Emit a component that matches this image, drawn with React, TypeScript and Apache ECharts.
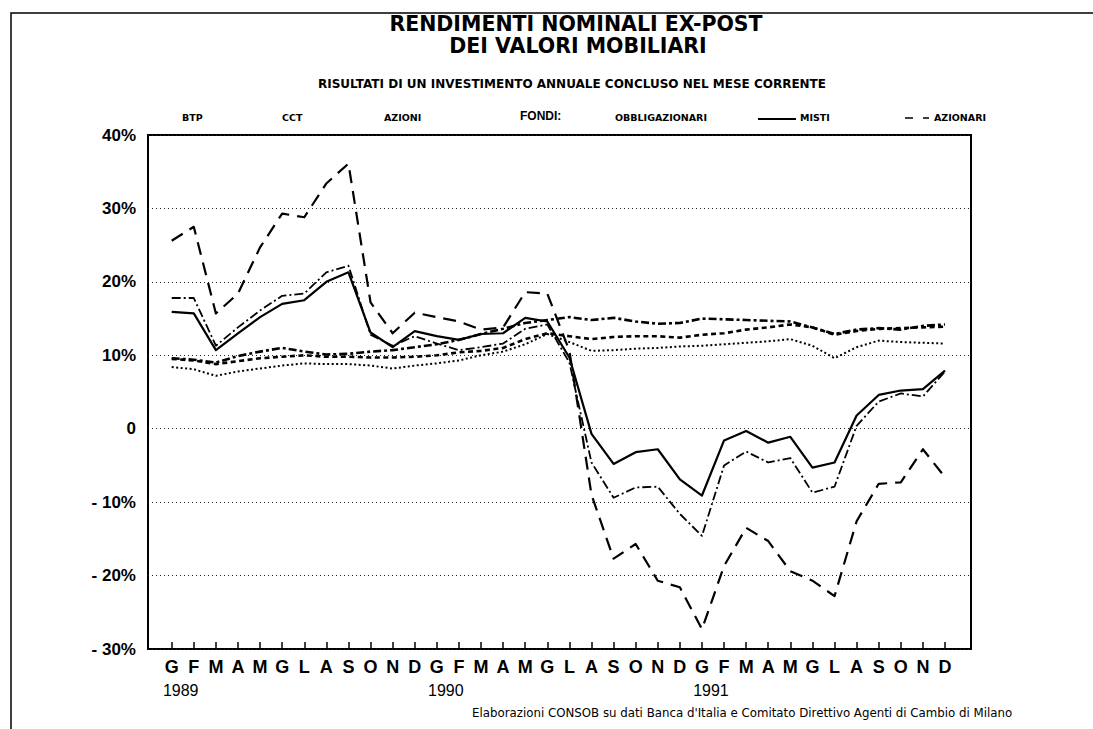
import React, { useEffect, useRef } from 'react';
import * as echarts from 'echarts';

const years = ['1989', '1990', '1991'];
const months = ['G', 'F', 'M', 'A', 'M', 'G', 'L', 'A', 'S', 'O', 'N', 'D'];
const yTickValues = [-30, -20, -10, 0, 10, 20, 30, 40];
const yTickLabels = ['- 30%', '- 20%', '- 10%', '0', '10%', '20%', '30%', '40%'];

const btp = [9.6, 9.4, 9.0, 9.9, 10.5, 11.0, 10.5, 10.1, 10.2, 10.5, 10.7, 11.1, 11.5, 12.1, 12.9, 13.6, 14.4, 14.8, 15.2, 14.8, 15.1, 14.6, 14.3, 14.4, 15.0, 14.9, 14.8, 14.7, 14.6, 13.8, 12.9, 13.5, 13.7, 13.5, 14.0, 14.2];
const cct = [9.5, 9.3, 8.8, 9.2, 9.6, 9.8, 10.0, 9.8, 9.8, 9.7, 9.7, 9.8, 10.0, 10.4, 10.6, 11.0, 12.2, 13.0, 12.6, 12.2, 12.5, 12.6, 12.6, 12.4, 12.8, 13.0, 13.5, 13.8, 14.2, 13.8, 12.8, 13.3, 13.6, 13.7, 13.8, 13.9];
const azioni = [25.6, 27.5, 15.7, 18.4, 24.7, 29.3, 28.8, 33.4, 36.1, 17.2, 13.0, 15.8, 15.2, 14.6, 13.5, 13.8, 18.6, 18.4, 10.6, -9.0, -17.7, -15.7, -20.7, -21.6, -27.3, -18.7, -13.5, -15.3, -19.4, -20.7, -22.8, -12.6, -7.5, -7.3, -2.8, -6.6];
const obbligazionari = [8.4, 8.1, 7.2, 7.8, 8.2, 8.6, 8.9, 8.8, 8.8, 8.6, 8.2, 8.6, 8.9, 9.3, 10.0, 10.5, 11.5, 12.9, 11.8, 10.6, 10.7, 10.9, 11.0, 11.2, 11.3, 11.5, 11.7, 11.9, 12.2, 11.3, 9.6, 11.1, 12.0, 11.8, 11.7, 11.6];
const misti = [15.9, 15.7, 10.7, 13.0, 15.2, 17.0, 17.5, 20.0, 21.3, 13.1, 11.1, 13.3, 12.6, 12.1, 12.9, 13.0, 15.1, 14.6, 9.7, -0.7, -4.8, -3.2, -2.8, -6.9, -9.1, -1.6, -0.3, -1.9, -1.1, -5.3, -4.6, 1.8, 4.6, 5.2, 5.4, 7.9];
const azionari = [17.8, 17.8, 11.3, 13.8, 16.1, 18.1, 18.4, 21.3, 22.2, 12.8, 11.3, 12.6, 11.6, 10.7, 11.1, 11.6, 13.6, 14.2, 9.0, -4.6, -9.4, -8.0, -7.9, -11.6, -14.6, -5.0, -3.1, -4.6, -4.0, -8.7, -7.9, 0.4, 3.7, 4.8, 4.4, 7.8];

const FONT = "'Liberation Sans', Arial, Helvetica, sans-serif";
const WIDE = "'DejaVu Sans', Verdana, sans-serif";

export default function App() {
  const ref = useRef<HTMLDivElement>(null);

  useEffect(() => {
    document.body.style.margin = '0';
    const chart = echarts.init(ref.current!, null, { renderer: 'svg' });

    const categories: string[] = [];
    years.forEach((y) => months.forEach((m, i) => categories.push(`${m}|${y}|${i}`)));

    const line = (name: string, data: number[], type: any, width: number, z: number) => ({
      name,
      type: 'line',
      xAxisIndex: 1,
      yAxisIndex: 1,
      data,
      symbol: 'none',
      silent: true,
      z,
      lineStyle: { color: '#000', width, type, cap: 'butt', join: 'round' },
    });

    const txt = (text: string, x: number, y: number, size: number, weight: string, align = 'left', family = FONT) => ({
      type: 'text',
      x,
      y,
      silent: true,
      style: {
        text,
        fontSize: size,
        fontWeight: weight,
        fontFamily: family,
        fill: '#000',
        align,
        textAlign: align,
        verticalAlign: 'middle',
        textVerticalAlign: 'middle',
      },
    });

    const option: any = {
      animation: false,
      backgroundColor: '#fff',
      grid: [
        { left: 148, top: 135, width: 823, height: 514, show: true, borderColor: '#000', borderWidth: 2, backgroundColor: 'transparent' },
        { left: 171.7, top: 135, width: 773.3, height: 514 },
      ],
      xAxis: [
        { gridIndex: 0, type: 'value', show: false, min: 0, max: 1 },
        {
          gridIndex: 1,
          type: 'category',
          data: categories,
          boundaryGap: false,
          position: 'bottom',
          axisLine: { show: false, onZero: false },
          axisTick: { show: true, inside: true, length: 7, interval: 0, lineStyle: { color: '#000', width: 1.5 } },
          splitLine: { show: false },
          axisLabel: {
            interval: 0,
            margin: 9,
            color: '#000',
            fontSize: 18,
            fontWeight: 'bold',
            fontFamily: FONT,
            formatter: (v: string) => v.split('|')[0],
          },
        },
        {
          gridIndex: 1,
          type: 'category',
          data: categories,
          boundaryGap: false,
          position: 'bottom',
          axisLine: { show: false, onZero: false },
          axisTick: { show: false },
          splitLine: { show: false },
          axisLabel: {
            interval: 0,
            margin: 33,
            formatter: (v: string) => {
              const p = v.split('|');
              return p[2] === '0' ? `{y|${p[1]}}` : '';
            },
            rich: {
              y: { fontSize: 16, fontFamily: FONT, color: '#000', padding: [0, 0, 0, 18] },
            },
          },
        },
      ],
      yAxis: [
        {
          gridIndex: 0,
          type: 'value',
          min: -30,
          max: 40,
          interval: 10,
          axisLine: { show: false },
          axisTick: { show: false },
          axisLabel: {
            margin: 12,
            color: '#000',
            fontSize: 17,
            fontWeight: 'bold',
            fontFamily: FONT,
            padding: [5, 0, 0, 0],
            formatter: (v: number) => {
              const i = yTickValues.indexOf(v);
              return i >= 0 ? yTickLabels[i] : '';
            },
          },
          splitLine: { show: true, lineStyle: { color: '#222', width: 1, type: [1, 3] } },
        },
        { gridIndex: 1, type: 'value', min: -30, max: 40, interval: 10, show: false, splitLine: { show: false } },
      ],
      series: [
        line('OBBLIGAZIONARI', obbligazionari, [2, 2.5], 2, 3),
        line('CCT', cct, [5, 3.5], 2.6, 4),
        line('BTP', btp, [8, 3, 3, 3], 2.6, 5),
        line('AZIONARI', azionari, [9, 3, 2, 3], 1.8, 6),
        line('MISTI', misti, 'solid', 2.2, 7),
        line('AZIONI', azioni, [13, 8], 2.2, 8),
      ],
      graphic: [
        { type: 'polyline', silent: true, shape: { points: [[11, 729], [11, 13], [1093, 13]] }, style: { stroke: '#000', lineWidth: 1.5, fill: 'none' } },
        txt('RENDIMENTI NOMINALI EX-POST', 576, 24, 20.5, 'bold', 'center', WIDE),
        txt('DEI VALORI MOBILIARI', 578, 46, 20.5, 'bold', 'center', WIDE),
        txt('RISULTATI DI UN INVESTIMENTO ANNUALE CONCLUSO NEL MESE CORRENTE', 572, 84, 12, 'bold', 'center', WIDE),
        txt('BTP', 182, 117, 9.5, 'bold', 'left', WIDE),
        txt('CCT', 282, 117, 9.5, 'bold', 'left', WIDE),
        txt('AZIONI', 384, 117, 9.5, 'bold', 'left', WIDE),
        txt('FONDI:', 520, 116, 12, 'bold'),
        txt('OBBLIGAZIONARI', 615, 117, 9.5, 'bold', 'left', WIDE),
        { type: 'line', silent: true, shape: { x1: 758, y1: 119, x2: 796, y2: 119 }, style: { stroke: '#000', lineWidth: 2 } },
        txt('MISTI', 800, 117, 9.5, 'bold', 'left', WIDE),
        { type: 'line', silent: true, shape: { x1: 905, y1: 118, x2: 929, y2: 118 }, style: { stroke: '#000', lineWidth: 1.5, lineDash: [8, 10, 6, 100] } },
        txt('AZIONARI', 934, 117, 9.5, 'bold', 'left', WIDE),
        txt("Elaborazioni CONSOB su dati Banca d'Italia e Comitato Direttivo Agenti di Cambio di Milano", 472, 713, 11.8, 'normal', 'left', WIDE),
      ],
    };

    chart.setOption(option);
    return () => chart.dispose();
  }, []);

  return <div ref={ref} style={{ position: 'fixed', left: 0, top: 0, width: 1093, height: 729, background: '#fff' }} />;
}
